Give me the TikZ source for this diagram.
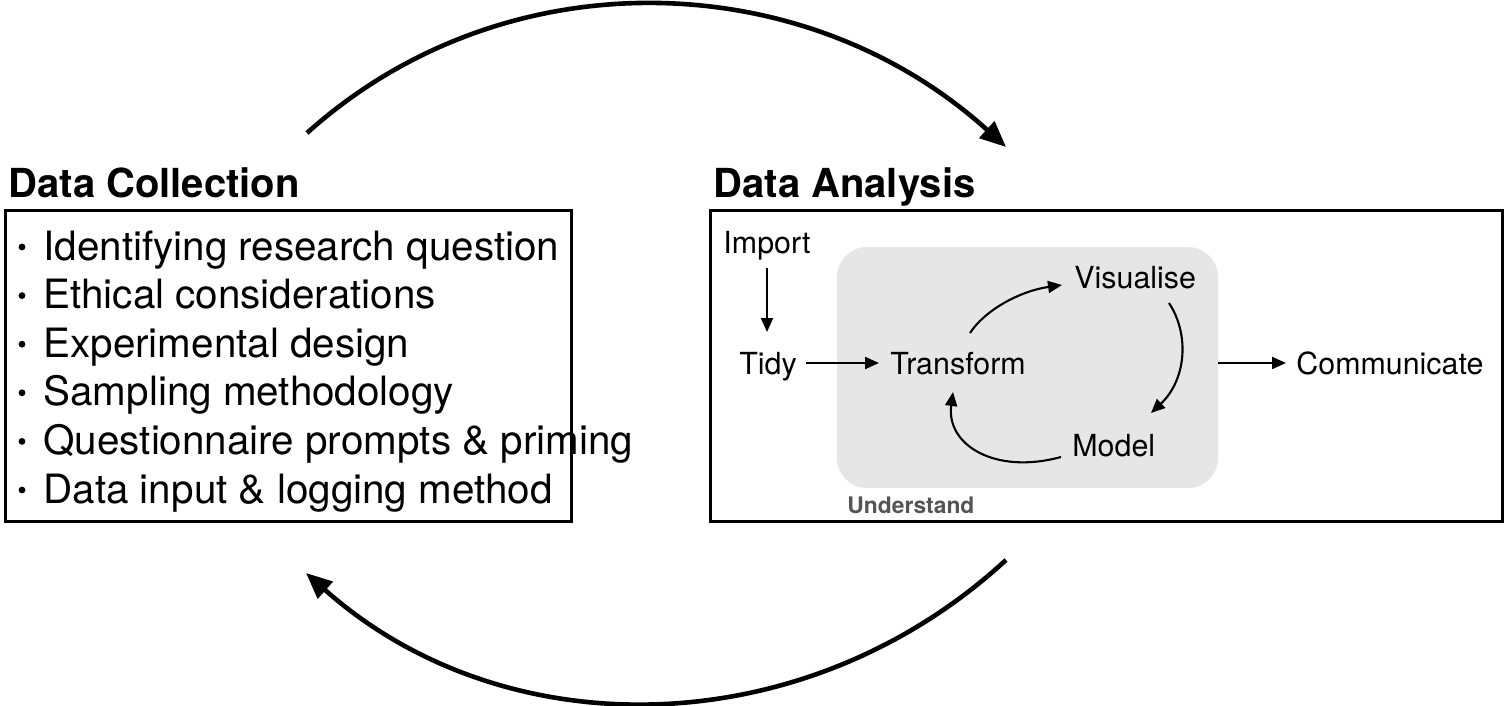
\documentclass[tikz,border=0pt]{standalone}
\usepackage{fontspec}
\setmainfont{TeX Gyre Heros}
\usetikzlibrary{arrows.meta}
\definecolor{ugray}{HTML}{E6E6E6}
\definecolor{utext}{HTML}{555555}
\tikzset{
  bigarrow/.style={line width=2.3pt,-{Triangle[length=13pt,width=11pt]}},
  smallarrow/.style={line width=1.05pt,-{Triangle[length=7pt,width=6pt]}},
  panel/.style={draw,line width=1.5pt},
  titletext/.style={anchor=base west,inner sep=0pt,font=\fontsize{20pt}{24pt}\selectfont\bfseries},
  itemtext/.style={anchor=base west,inner sep=0pt,font=\fontsize{20.2pt}{24pt}\selectfont},
  stagetext/.style={anchor=base west,inner sep=0pt,font=\fontsize{15.2pt}{18pt}\selectfont},
  bulletdot/.style={fill=black,circle,inner sep=0pt,minimum size=3.4pt},
}
\begin{document}
\begin{tikzpicture}[x=0.5pt,y=-0.5pt]
\useasboundingbox (0,0) rectangle (1506,706);
% panels
\draw[panel] (5,211) rectangle (571,521);
\draw[panel] (710,211) rectangle (1502,521);
% titles
\node[titletext] (tcoll) at (8,198) {Data Collection};
\node[titletext] (tana) at (713,198) {Data Analysis};
% bullet items
\foreach \i/\t in {0/Identifying research question,1/Ethical considerations,2/Experimental design,3/Sampling methodology,4/Questionnaire prompts \& priming,5/Data input \& logging method}{
  \node[bulletdot] (b\i) at (22,{247+48.6*\i}) {};
  \node[itemtext] (it\i) at (43,{260+48.6*\i}) {\t};
}
% understand panel
\fill[ugray,rounded corners=15] (837,247) rectangle (1218,488);
\node[anchor=base west,inner sep=0pt,text=utext,font=\fontsize{11.4pt}{13pt}\selectfont\bfseries] (und) at (847,513) {Understand};
% stages
\node[stagetext] (import) at (723,253) {Import};
\node[stagetext] (tidy) at (739,374) {Tidy};
\node[stagetext] (transform) at (890,374) {Transform};
\node[stagetext] (visualise) at (1074,288) {Visualise};
\node[stagetext] (model) at (1072,456) {Model};
\node[stagetext] (communicate) at (1296,374) {Communicate};
% connector coordinates
\coordinate (impS) at (767,268);
\coordinate (tidyN) at (767,332);
\coordinate (tidyE) at (806,363);
\coordinate (trW) at (879,363);
\coordinate (trN) at (970,333);
\coordinate (visW) at (1062,285);
\coordinate (visS) at (1169,303);
\coordinate (modN) at (1151,413);
\coordinate (modW) at (1061,457);
\coordinate (trS) at (953,392);
\coordinate (undE) at (1218,363);
\coordinate (comW) at (1286,363);
\draw[smallarrow] (impS) -- (tidyN);
\draw[smallarrow] (tidyE) -- (trW);
\draw[smallarrow] (trN) .. controls (985,310) and (1020,291) .. (visW);
\draw[smallarrow] (visS) .. controls (1190,335) and (1186,380) .. (modN);
\draw[smallarrow] (modW) .. controls (995,475) and (946,445) .. (trS);
\draw[smallarrow] (undE) -- (comW);
% big cycle arrows
\coordinate (collTop) at (307,133);
\coordinate (anaTop) at (1006,147);
\coordinate (anaBot) at (1006,560);
\coordinate (collBot) at (306,573);
\draw[bigarrow] (collTop) .. controls (505,-45) and (805,-35) .. (anaTop);
\draw[bigarrow] (anaBot) .. controls (805,745) and (505,750) .. (collBot);
\end{tikzpicture}
\end{document}
